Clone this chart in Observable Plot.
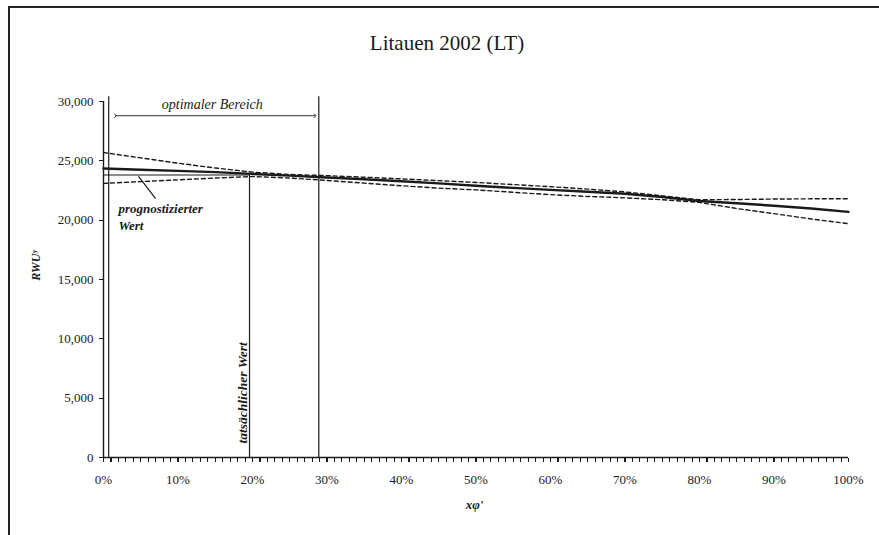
<!DOCTYPE html>
<html><head><meta charset="utf-8">
<script src="https://cdn.jsdelivr.net/npm/d3@7"></script>
<script src="https://cdn.jsdelivr.net/npm/@observablehq/plot@0.6"></script>
<style>
body{margin:0;background:#fff;}
#wrap{position:relative;width:879px;height:535px;overflow:hidden;font-family:"Liberation Serif",serif;color:#1a1a1a;}
#chart{position:absolute;left:0;top:0;}
#frame{position:absolute;left:8px;top:6px;width:900px;height:600px;border-left:2px solid #222;border-top:2px solid #222;pointer-events:none;}
#title{position:absolute;left:0;width:894px;top:31px;text-align:center;font-size:21px;}
</style></head><body>
<div id="wrap"><div id="chart"></div><div id="frame"></div><div id="title">Litauen 2002 (LT)</div></div>
<script>
// Anteil (x) in Schritten von 5 %
const anteil = [0, 0.05, 0.10, 0.15, 0.20, 0.25, 0.30, 0.35, 0.40, 0.45, 0.50, 0.55, 0.60, 0.65, 0.70, 0.75, 0.80, 0.85, 0.90, 0.95, 1.00];
// prognostizierter Wert (durchgezogene Linie)
const prognose = [24350, 24250, 24150, 24050, 23900, 23750, 23600, 23450, 23280, 23100, 22900, 22720, 22550, 22400, 22230, 21950, 21620, 21420, 21220, 20980, 20700];
// obere Grenze (gestrichelt)
const obereGrenze = [25700, 25250, 24800, 24400, 24050, 23850, 23750, 23620, 23480, 23330, 23180, 23000, 22820, 22620, 22380, 22050, 21720, 21740, 21780, 21800, 21800];
// untere Grenze (gestrichelt)
const untereGrenze = [23100, 23250, 23400, 23550, 23680, 23550, 23350, 23120, 22900, 22700, 22550, 22350, 22150, 22000, 21880, 21720, 21500, 20980, 20550, 20100, 19700];

const yTicks = [0, 5000, 10000, 15000, 20000, 25000, 30000];
const xTicks = [0, 0.1, 0.2, 0.3, 0.4, 0.5, 0.6, 0.7, 0.8, 0.9, 1.0];
const xMinorTicks = d3.range(0, 101).map(i => i / 100);

const tatsaechlicherAnteil = 0.196;
const tatsaechlicherWert = 23800;
const optimalLinks = 0.007;
const optimalRechts = 0.289;
const linienOben = 30400;

const data = anteil.map((a, i) => ({a, p: prognose[i], o: obereGrenze[i], u: untereGrenze[i]}));
const minorData = xMinorTicks.map(t => ({t}));
const yTickData = yTicks.map(t => ({t}));

const ink = "#1a1a1a";
const chart = Plot.plot({
  width: 879,
  height: 535,
  marginLeft: 103,
  marginRight: 31,
  marginTop: 101,
  marginBottom: 78,
  style: {fontFamily: "'Liberation Serif', serif", fontSize: "13px", color: ink, background: "transparent"},
  x: {domain: [0, 1]},
  y: {domain: [0, 30000]},
  marks: [
    // Achsen
    Plot.axisY({ticks: yTicks, tickFormat: d3.format(","), tickSize: 0, tickPadding: 10, label: null, fontSize: 13}),
    Plot.axisX({ticks: xTicks, tickFormat: d3.format(".0%"), tickSize: 0, tickPadding: 17, label: null, fontSize: 13}),
    Plot.link(yTickData, {x1: () => 0, x2: () => -0.0067, y1: "t", y2: "t", stroke: ink, strokeWidth: 1.2, shapeRendering: "crispEdges"}),
    Plot.link(minorData, {x1: "t", x2: "t", y1: () => 0, y2: () => -420, stroke: ink, strokeWidth: 1.1, shapeRendering: "crispEdges"}),
    Plot.ruleY([0], {x1: 0, x2: 1, stroke: ink, strokeWidth: 1.4}),
    Plot.ruleX([0], {y1: 0, y2: 30000, stroke: ink, strokeWidth: 1.4}),
    // optimaler Bereich
    Plot.ruleX([optimalLinks, optimalRechts], {y1: 0, y2: linienOben, stroke: ink, strokeWidth: 1.2}),
    Plot.link([{x1: 0.016, x2: 0.284, y: 28800}], {x1: "x1", x2: "x2", y1: "y", y2: "y", stroke: ink, strokeWidth: 0.9, markerStart: "arrow", markerEnd: "arrow"}),
    Plot.text(["optimaler Bereich"], {x: 0.146, y: 29750, fontStyle: "italic", fontSize: 14, fill: ink}),
    // tatsächlicher Wert
    Plot.ruleX([tatsaechlicherAnteil], {y1: 0, y2: tatsaechlicherWert, stroke: ink, strokeWidth: 1.2}),
    Plot.ruleY([tatsaechlicherWert], {x1: 0, x2: tatsaechlicherAnteil, stroke: ink, strokeWidth: 1.1}),
    Plot.text(["tatsächlicher Wert"], {x: 0.187, y: 5450, rotate: -90, fontStyle: "italic", fontWeight: "bold", fontSize: 13.5, fill: ink}),
    // Linien
    Plot.line(data, {x: "a", y: "o", stroke: ink, strokeWidth: 1.4, strokeDasharray: "4,3"}),
    Plot.line(data, {x: "a", y: "u", stroke: ink, strokeWidth: 1.4, strokeDasharray: "4,3"}),
    Plot.line(data, {x: "a", y: "p", stroke: ink, strokeWidth: 2.4}),
    // prognostizierter Wert
    Plot.link([{x1: 0.047, y1: 23700, x2: 0.07, y2: 21820}], {x1: "x1", y1: "y1", x2: "x2", y2: "y2", stroke: ink, strokeWidth: 1.2}),
    Plot.text(["prognostizierter"], {x: 0.02, y: 20950, textAnchor: "start", fontStyle: "italic", fontWeight: "bold", fontSize: 13, fill: ink}),
    Plot.text(["Wert"], {x: 0.02, y: 19550, textAnchor: "start", fontStyle: "italic", fontWeight: "bold", fontSize: 13, fill: ink}),
    // Achsentitel
    Plot.text(["RWUʸ"], {frameAnchor: "left", y: 14900, dx: -67, rotate: -90, fontStyle: "italic", fontWeight: "bold", fontSize: 12, fill: ink}),
    Plot.text(["xφ'"], {frameAnchor: "bottom", x: 0.498, dy: 51, fontStyle: "italic", fontWeight: "bold", fontSize: 13, fill: ink})
  ]
});
document.getElementById("chart").appendChild(chart);
</script>
</body></html>
